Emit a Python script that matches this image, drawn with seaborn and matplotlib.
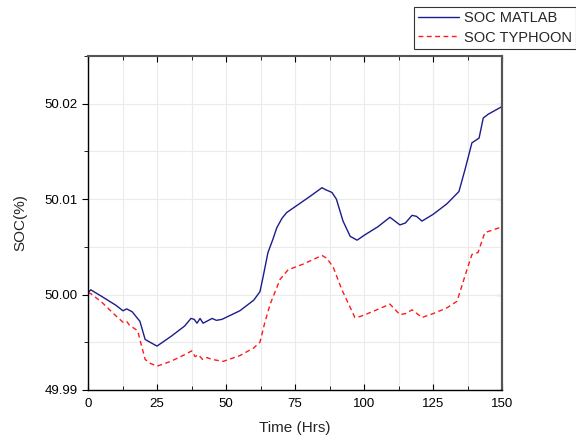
import matplotlib
matplotlib.use("Agg")
import matplotlib.pyplot as plt
import seaborn as sns
import pandas as pd
from matplotlib.ticker import MultipleLocator, FormatStrFormatter

sns.set_style("white")
plt.rcParams['font.family'] = ['Liberation Sans', 'DejaVu Sans']

# Data
t_matlab = [0, 1, 5, 10, 12.7, 14, 16, 18.8, 20.7, 22.5, 25, 30, 35, 37.3, 38.5, 39.5,
            40.6, 41.7, 43, 45, 46.5, 48.5, 51.4, 55, 60, 62.3, 63.4, 65.2, 67, 68.4,
            70.3, 72, 75, 80, 84.8, 86, 88.4, 90, 92.4, 95, 97.5, 100, 105, 109.4,
            113, 115, 117.4, 119, 121, 125, 130, 134.4, 136.6, 139.1, 141.7, 143.2,
            145, 150]
soc_matlab = [50.0002, 50.0005, 49.9998, 49.9989, 49.9983, 49.9985, 49.9982, 49.9972,
              49.9953, 49.9950, 49.9946, 49.9956, 49.9967, 49.9975, 49.9974, 49.9970,
              49.9975, 49.9970, 49.9972, 49.9975, 49.9973, 49.9974, 49.9978, 49.9983,
              49.9994, 50.0003, 50.0018, 50.0044, 50.0058, 50.0070, 50.0080, 50.0086,
              50.0092, 50.0102, 50.0112, 50.0110, 50.0107, 50.0100, 50.0077, 50.0061,
              50.0057, 50.0062, 50.0071, 50.0081, 50.0073, 50.0075, 50.0083, 50.0082,
              50.0077, 50.0084, 50.0095, 50.0108, 50.0131, 50.0159, 50.0164, 50.0185,
              50.0189, 50.0197]
t_typhoon = [0, 1, 5, 10, 12.7, 14, 15, 18, 20.7, 22.5, 25, 30, 35, 37.6, 38.8, 40,
             41.5, 43, 45, 49, 55, 60, 62.3, 64, 66, 69.6, 72.5, 78, 84.8, 86.5, 88.8,
             92, 96.7, 98.6, 103, 109.4, 113, 115, 117.4, 121, 125, 130, 133.7, 137.3,
             139.1, 141.3, 143.8, 146, 150]
soc_typhoon = [50.0002, 50.0001, 49.9992, 49.9978, 49.9971, 49.9972, 49.9968, 49.9962,
               49.9932, 49.9928, 49.9925, 49.9930, 49.9937, 49.9941, 49.9935, 49.9937,
               49.9932, 49.9934, 49.9932, 49.9930, 49.9936, 49.9944, 49.9950, 49.9970,
               49.9990, 50.0016, 50.0026, 50.0032, 50.0041, 50.0038, 50.0029, 50.0005,
               49.9976, 49.9977, 49.9982, 49.9990, 49.9979, 49.9980, 49.9984, 49.9976,
               49.9980, 49.9986, 49.9993, 50.0026, 50.0042, 50.0044, 50.0065, 50.0067,
               50.0071]

df_m = pd.DataFrame({"t": t_matlab, "soc": soc_matlab})
df_t = pd.DataFrame({"t": t_typhoon, "soc": soc_typhoon})

fig = plt.figure(figsize=(5.76, 4.40), dpi=100)
ax = fig.add_axes([88/576, 50/440, (502-88)/576, (390-56)/440])

sns.lineplot(data=df_m, x="t", y="soc", ax=ax, color="#1c1c8a", linewidth=1.0,
             label="SOC MATLAB", legend=False)
sns.lineplot(data=df_t, x="t", y="soc", ax=ax, color="#ff1a1a", linewidth=1.0,
             linestyle=(0, (3.5, 2.5)), label="SOC TYPHOON", legend=False)

ax.set_xlim(0, 150)
ax.set_ylim(49.99, 50.025)
ax.xaxis.set_major_locator(MultipleLocator(25))
ax.xaxis.set_minor_locator(MultipleLocator(12.5))
ax.yaxis.set_major_locator(MultipleLocator(0.01))
ax.yaxis.set_minor_locator(MultipleLocator(0.005))
ax.yaxis.set_major_formatter(FormatStrFormatter("%.2f"))
ax.grid(True, which="both", color="#ebebeb", linewidth=0.8)
ax.set_axisbelow(True)

# x: ticks inward on bottom and top
ax.tick_params(axis="x", which="both", direction="in", top=True, bottom=True,
               labelsize=9.5, colors="black", pad=6)
# y: ticks outward on left only
ax.tick_params(axis="y", which="both", direction="out", left=True, right=False,
               labelsize=9.5, colors="black")
ax.tick_params(which="major", length=4)
ax.tick_params(which="minor", length=3)

# right side: inward ticks without labels
sec = ax.secondary_yaxis("right")
sec.yaxis.set_major_locator(MultipleLocator(0.01))
sec.yaxis.set_minor_locator(MultipleLocator(0.005))
sec.tick_params(axis="y", which="both", direction="in", labelright=False)
sec.tick_params(which="major", length=4)
sec.tick_params(which="minor", length=3)
sec.spines["right"].set_color("#555555")
sec.spines["right"].set_linewidth(1.5)

for side in ["left", "bottom"]:
    ax.spines[side].set_color("black")
    ax.spines[side].set_linewidth(1.0)
ax.spines["top"].set_color("#555555")
ax.spines["top"].set_linewidth(1.5)
ax.spines["right"].set_color("#555555")
ax.spines["right"].set_linewidth(1.5)

ax.set_xlabel("Time (Hrs)", fontsize=11, labelpad=8)
ax.set_ylabel("SOC(%)", fontsize=11, labelpad=12)

handles, labels = ax.get_legend_handles_labels()
leg = fig.legend(handles, labels, loc="upper right", bbox_to_anchor=(1.0, 0.984),
                 fontsize=10.5, frameon=True, fancybox=False, handlelength=2.8,
                 handletextpad=0.3, borderpad=0.3, labelspacing=0.35,
                 borderaxespad=0.0)
leg.get_frame().set_edgecolor("black")
leg.get_frame().set_linewidth(0.8)

fig.savefig("out.png", dpi=100)
